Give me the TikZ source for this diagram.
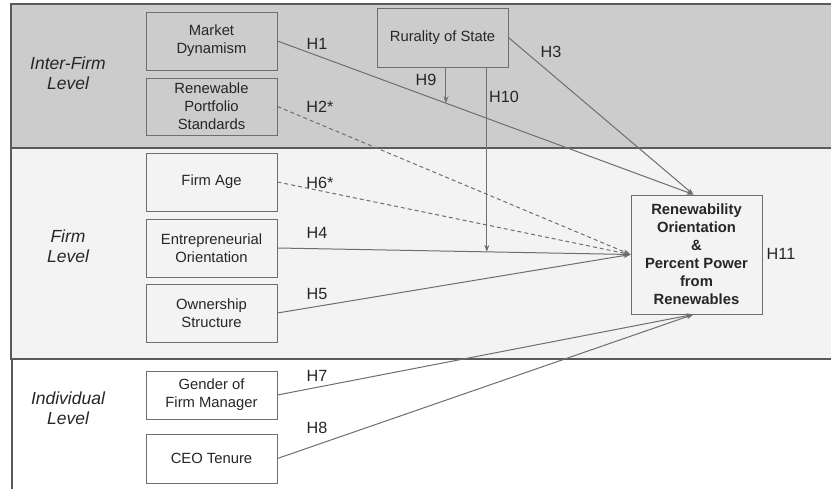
\documentclass[tikz,border=0pt]{standalone}
\usepackage{fontspec}
\setmainfont{Liberation Sans}
\usetikzlibrary{arrows.meta,calc}
\definecolor{bandtop}{HTML}{CCCCCC}
\definecolor{bandmid}{HTML}{F3F3F3}
\definecolor{edgegray}{HTML}{6E6E6E}
\definecolor{bandline}{HTML}{5A5A5A}
\tikzset{
  varbox/.style={draw=edgegray, line width=0.9pt, minimum width=131pt, align=center, inner sep=1pt,
    font=\fontsize{14.8}{18}\selectfont, text=black!85},
  lvl/.style={align=center, font=\fontsize{17.5}{20}\selectfont\itshape, text=black!85},
  hyp/.style={font=\fontsize{16.2}{18}\selectfont, text=black!85},
  arr/.style={draw=edgegray, line width=1pt, -{Stealth[length=7pt,width=5pt]}},
  darr/.style={arr, dashed, dash pattern=on 4pt off 3pt},
}
\begin{document}
\begin{tikzpicture}[x=1pt,y=-1pt]
\useasboundingbox (0,0) rectangle (831,489);
\fill[white] (0,0) rectangle (831,489);
\begin{scope}
\clip (0,0) rectangle (831,489);
% bands
\fill[bandtop] (11,4) rectangle (840,148);
\draw[bandline, line width=1.2pt] (840,4) -- (11,4) -- (11,148);
\fill[bandmid] (11,148) rectangle (840,359);
\draw[bandline, line width=1.2pt] (11,148) -- (11,359) -- (840,359);
\draw[bandline, line width=2pt] (11,148) -- (840,148);
\draw[bandline, line width=1.2pt] (12,359) -- (12,495);
\end{scope}

% level labels
\node[lvl] (L1) at (68,73) {Inter-Firm\\Level};
\node[lvl] (L2) at (68,246) {Firm\\Level};
\node[lvl] (L3) at (68,408) {Individual\\Level};

% variable boxes
\node[varbox, minimum height=58pt] (MD) at (211.5,41) {Market\\Dynamism};
\node[varbox, minimum height=57pt] (RPS) at (211.5,106.5) {Renewable\\Portfolio\\Standards};
\node[varbox, minimum height=59pt] (RS) at (442.5,37.5) {Rurality of State};
\node[varbox, minimum height=58pt] (FA) at (211.5,182) {Firm Age};
\node[varbox, minimum height=58pt] (EO) at (211.5,248) {Entrepreneurial\\Orientation};
\node[varbox, minimum height=58pt] (OS) at (211.5,313) {Ownership\\Structure};
\node[varbox, minimum height=48pt] (GFM) at (211.5,395) {Gender of\\Firm Manager};
\node[varbox, minimum height=49pt] (CEO) at (211.5,458.5) {CEO Tenure};
\node[varbox, minimum height=119pt, font=\fontsize{14.8}{18}\selectfont\bfseries] (T) at (696.5,254.5)
  {Renewability\\Orientation\\\&\\Percent Power\\from\\Renewables};

% connectors
\draw[arr] (MD.east) -- ($(T.north)+(-3,0)$);
\draw[arr] (RS.east) -- ($(T.north)+(-3,0)$);
\draw[darr] (RPS.east) -- (T.west);
\draw[darr] (FA.east) -- (T.west);
\draw[arr] (EO.east) -- (T.west);
\draw[arr] (OS.east) -- (T.west);
\draw[arr] (GFM.east) -- ($(T.south)+(-3,0)$);
\draw[arr] (CEO.east) -- ($(T.south)+(-3,0)$);

% moderation arrows
\coordinate (p9) at ($(MD.east)!0.405!($(T.north)+(-3,0)$)$);
\coordinate (p10) at ($(EO.east)!0.593!(T.west)$);
\draw[arr] (RS.south -| p9) -- (p9);
\draw[arr] (RS.south -| p10) -- (p10);

% hypothesis labels
\node[hyp] (h1) at (317,44) {H1};
\node[hyp] (h2) at (320,107) {H2*};
\node[hyp] (h3) at (551,52) {H3};
\node[hyp] (h9) at (426,80) {H9};
\node[hyp] (h10) at (504,97) {H10};
\node[hyp] (h6) at (320,183) {H6*};
\node[hyp] (h4) at (317,233) {H4};
\node[hyp] (h5) at (317,294) {H5};
\node[hyp] (h7) at (317,376) {H7};
\node[hyp] (h8) at (317,428) {H8};
\node[hyp] (h11) at (781,254) {H11};
\end{tikzpicture}
\end{document}
